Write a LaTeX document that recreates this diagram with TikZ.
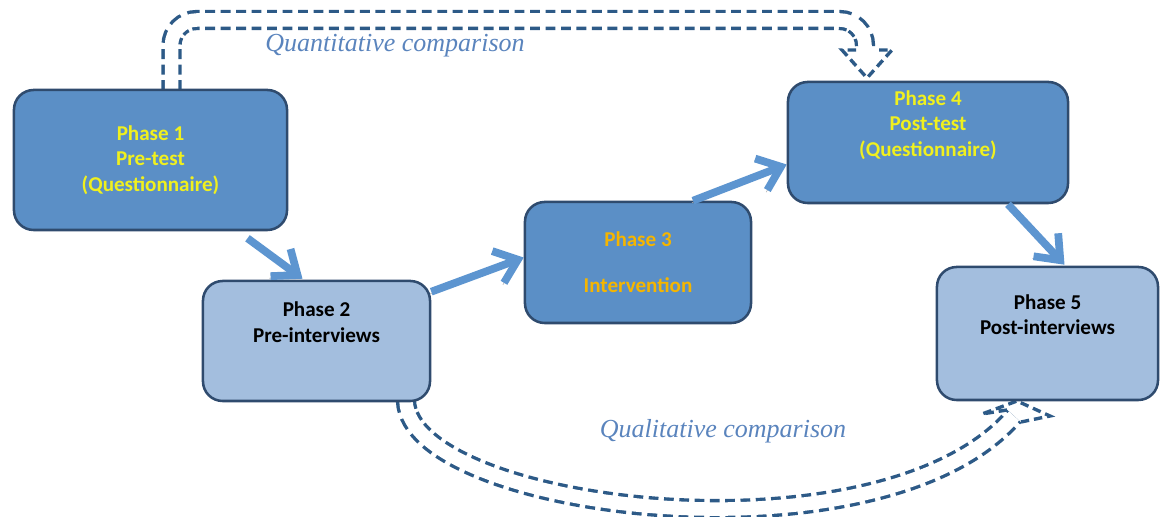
\documentclass[tikz,border=0pt]{standalone}
\usepackage{fontspec}
\setmainfont{Liberation Serif}
\newfontfamily\boxfont{Carlito}
\usetikzlibrary{arrows.meta,calc,positioning}

\definecolor{darkfill}{HTML}{5B8FC6}
\definecolor{lightfill}{HTML}{A3BEDE}
\definecolor{boxline}{HTML}{2F4B6E}
\definecolor{flowblue}{HTML}{5D95D0}
\definecolor{dashblue}{HTML}{2D5A87}
\definecolor{labelblue}{HTML}{5A84BD}
\definecolor{phaseyellow}{HTML}{F0F01E}
\definecolor{phasegold}{HTML}{F5B500}

\tikzset{
  phase/.style={draw=boxline, line width=1.8pt, rounded corners=14pt, align=center,
    font=\boxfont\bfseries\fontsize{15}{18}\selectfont, inner sep=2pt},
  darkphase/.style={phase, fill=darkfill, text=phaseyellow},
  lightphase/.style={phase, fill=lightfill, text=black},
  flow/.style={draw=flowblue, line width=5.5pt, -{Straight Barb[length=15pt,width=24pt]},
    preaction={draw=black!30, transform canvas={shift={(-0.8pt,-1.5pt)}}}},
  compare/.style={draw=white, line width=9.6pt,
    preaction={draw=dashblue, line width=14.4pt, dash pattern=on 7pt off 4pt}},
  comphead/.style={draw=dashblue, line width=2.4pt, dash pattern=on 6pt off 3.5pt},
  comptext/.style={text=labelblue, font=\itshape\fontsize{18.5}{20}\selectfont}
}

\begin{document}
\begin{tikzpicture}[x=0.025cm, y=-0.025cm]
  \useasboundingbox (0,0) rectangle (1160,517);

  \coordinate (p1n) at (150.5,90);
  \coordinate (p2s) at (316.5,401);
  \coordinate (p4n) at (928,82);
  \coordinate (p5s) at (1047.5,400);

  % comparison bands, drawn under the boxes
  \coordinate (qs) at ($(p1n)+(21,0)$);
  \coordinate (qtop) at (520,20);
  \coordinate (qe) at ($(p4n)+(-63,-32)$);
  \draw[compare, rounded corners=18pt] (qs) |- (qtop) -| (qe);
  \draw[comphead] ($(qe)+(-9,0)$) -- ++(-14,0) -- ($(qe)+(2,28)$) -- ($(qe)+(27,0)$) -- ++(-17,0);

  \coordinate (rs) at ($(p2s)+(89.5,0)$);
  \coordinate (re) at ($(p5s)+(-33.5,16)$);
  \draw[compare] (rs) .. controls +(4,109) and +(-134,154) .. (re);
  \draw[comphead] ($(re)+(-7,-6)$) -- ($(re)+(-32,-2)$) -- ($(re)+(3,-15)$) -- ($(re)+(36,0)$) -- ($(re)+(7,6)$);

  \node[comptext] (quant) at (395,46) {Quantitative comparison};
  \node[comptext] (qual) at (723,431) {Qualitative comparison};

  \node[darkphase, minimum width=6.825cm, minimum height=3.5cm] (p1) at (150.5,160)
    {Phase 1\\Pre-test\\(Questionnaire)};
  \node[lightphase, minimum width=5.675cm, minimum height=3.0cm] (p2) at (316.5,341)
    {Phase 2\\Pre-interviews\\[9pt]~};
  \node[darkphase, text=phasegold, minimum width=5.65cm, minimum height=3.025cm] (p3) at (638,262.5)
    {Phase 3\\[14.7pt]Intervention};
  \node[darkphase, minimum width=7.0cm, minimum height=3.025cm] (p4) at (928,142.5)
    {Phase 4\\Post-test\\(Questionnaire)\\[9pt]~};
  \node[lightphase, minimum width=5.525cm, minimum height=3.325cm] (p5) at (1047.5,333.5)
    {Phase 5\\Post-interviews\\[9pt]~};

  \draw[flow] ($(p1.south)+(97,7)$) -- ($(p2.north)+(-14,-1)$);
  \draw[flow] ($(p2.north east)+(0,12)$) -- ($(p3.west)+(0,-5)$);
  \draw[flow] ($(p3.north)+(55,0)$) -- ($(p4.west)+(0,22)$);
  \draw[flow] ($(p4.south)+(80,0)$) -- ($(p5.north)+(17,-1)$);
\end{tikzpicture}
\end{document}
